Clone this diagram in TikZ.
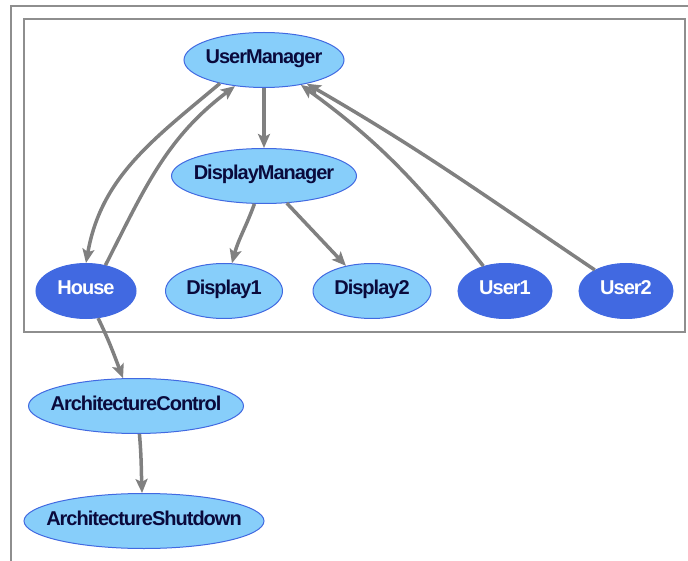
\documentclass[tikz,border=0pt]{standalone}
\usepackage{fontspec}
\setmainfont{Liberation Sans}
\newfontfamily\nodefont{Liberation Sans}[LetterSpace=-5.0]
\usepackage{xcolor}
\usetikzlibrary{arrows.meta}
\usetikzlibrary{shapes.geometric, math}

\definecolor{skyfill}{HTML}{87CEFA}
\definecolor{royal}{HTML}{4169E1}
\definecolor{navytext}{HTML}{0A0A3C}
\definecolor{edgegray}{HTML}{808080}
\definecolor{framegray}{HTML}{8E8E8E}

\begin{document}
\begin{tikzpicture}[x=1pt, y=1pt,
  gnode/.style={ellipse, draw=royal, line width=1pt, inner sep=0pt,
    minimum height=55pt, text height=14pt, text depth=6pt,
    font=\nodefont\fontsize{20}{22}\selectfont\bfseries},
  lightnode/.style={gnode, fill=skyfill, text=navytext},
  darknode/.style={gnode, fill=royal, text=white},
  link/.style={edgegray, line width=\lw pt,
    -{Stealth[length=\tip pt, width=12pt, inset=3pt]}}
]
\tikzmath{
\lw=3.5;
\tip=14;
}
\useasboundingbox (0,0) rectangle (688,-561);

\draw[framegray, line width=1.5pt] (11,-561) -- (11,-6) -- (688,-6);
\draw[framegray, line width=1.5pt] (24,-19) rectangle (685,-332);

\node[lightnode, minimum width=160pt] (um) at (264,-60) {\makebox[0pt]{UserManager}};
\node[lightnode, minimum width=185pt] (dm) at (264,-176) {\makebox[0pt]{DisplayManager}};
\node[darknode, minimum width=100pt] (house) at (86,-291) {\makebox[0pt]{House}};
\node[lightnode, minimum width=117pt] (d1) at (224,-291) {\makebox[0pt]{Display1}};
\node[lightnode, minimum width=118pt] (d2) at (372,-291) {\makebox[0pt]{Display2}};
\node[darknode, minimum width=94pt] (u1) at (505,-291) {\makebox[0pt]{User1}};
\node[darknode, minimum width=94pt] (u2) at (626,-291) {\makebox[0pt]{User2}};
\node[lightnode, minimum width=215pt] (ac) at (136,-406) {\makebox[0pt]{ArchitectureControl}};
\node[lightnode, minimum width=240pt] (as) at (144,-521) {\makebox[0pt]{ArchitectureShutdown}};

\draw[link] (um.208) to[out=220, in=80] (house.north);
\draw[link] (house.53) to[out=63, in=217] (um.222);
\draw[link] (um) -- (dm);
\draw[link] (dm.251) to[out=250, in=75] (d1.74);
\draw[link] (dm.310) -- (d2.136);
\draw[link] (u1.131) to[out=128, in=-36] (um.326);
\draw[link] (u2.146) to[out=146, in=-30] (um.331);
\draw[link] (house.294) to[out=-64, in=111] (ac.115);
\draw[link] (ac.277) to[out=-85, in=92] (as.94);

\end{tikzpicture}
\end{document}
